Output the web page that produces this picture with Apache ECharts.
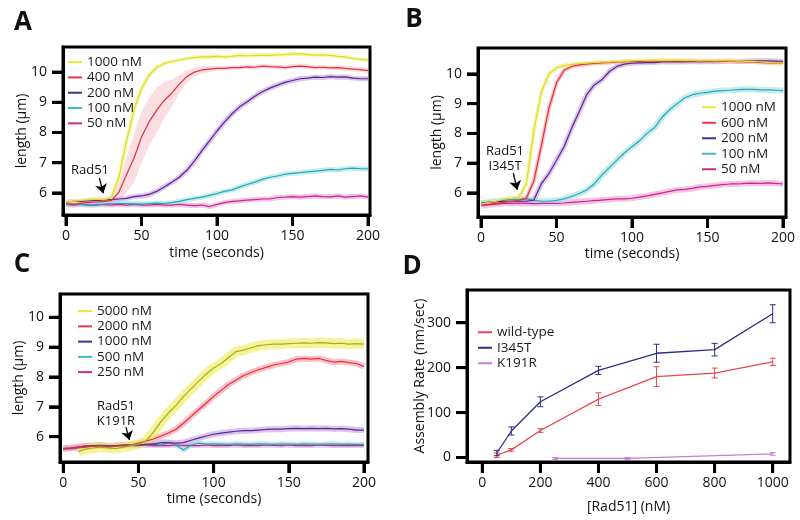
<!DOCTYPE html>
<html>
<head>
<meta charset="utf-8">
<script src="https://cdn.jsdelivr.net/npm/echarts@6/dist/echarts.min.js"></script>
<style>html,body{margin:0;background:#fff}#main{width:800px;height:520px}</style>
</head>
<body>
<div id="main"></div>
<script>
var FONT = '"Open Sans", "Noto Sans", sans-serif';

// time axis of the traces (seconds)
var times = [0,5,10,15,20,25,30,35,40,45,50,55,60,65,70,75,80,85,90,95,100,105,110,115,120,125,130,135,140,145,150,155,160,165,170,175,180,185,190,195,200];

// panel A - wild-type Rad51, length (um)
var a1000 = [5.72,5.72,5.75,5.78,5.8,5.78,5.85,6.5,7.7,8.75, 9.45,9.9,10.15,10.28,10.35,10.4,10.45,10.48,10.5,10.5, 10.52,10.5,10.52,10.55,10.54,10.55,10.56,10.55,10.57,10.58, 10.6,10.6,10.58,10.56,10.57,10.55,10.52,10.5,10.45,10.42, 10.4];
var a400 = [5.65,5.62,5.66,5.68,5.7,5.72,5.75,6.02,6.6,7.15, 7.85,8.35,8.73,9.06,9.3,9.6,9.85,10.0,10.07,10.1, 10.12,10.12,10.15,10.15,10.17,10.16,10.2,10.18,10.17,10.15, 10.18,10.2,10.18,10.15,10.16,10.14,10.15,10.12,10.1,10.08, 10.05];
var a400Err = [0.12,0.1,0.08,0.08,0.08,0.08,0.1,0.3,0.6,0.8, 0.85,0.8,0.75,0.6,0.45,0.3,0.2,0.15,0.12,0.1, 0.08,0.08,0.08,0.08,0.08,0.08,0.08,0.08,0.08,0.08, 0.08,0.08,0.08,0.08,0.08,0.08,0.08,0.08,0.08,0.08, 0.08];
var a200 = [5.7,5.72,5.72,5.74,5.75,5.76,5.78,5.8,5.82,5.88, 5.9,5.95,6.05,6.2,6.35,6.52,6.75,7.05,7.4,7.72, 8.05,8.35,8.62,8.85,9.02,9.2,9.35,9.47,9.57,9.66, 9.72,9.78,9.8,9.83,9.82,9.85,9.83,9.84,9.8,9.78, 9.78];
var a100 = [5.62,5.63,5.62,5.6,5.62,5.63,5.65,5.65,5.65,5.64, 5.63,5.65,5.66,5.65,5.68,5.72,5.78,5.82,5.86,5.92, 5.98,6.05,6.1,6.2,6.28,6.36,6.45,6.52,6.56,6.62, 6.65,6.67,6.7,6.72,6.75,6.78,6.76,6.8,6.82,6.8, 6.8];
var a50 = [5.62,5.6,5.62,5.6,5.6,5.62,5.6,5.62,5.6,5.62, 5.6,5.6,5.62,5.6,5.6,5.62,5.6,5.58,5.6,5.55, 5.62,5.68,5.72,5.74,5.76,5.78,5.8,5.8,5.85,5.86, 5.88,5.86,5.88,5.9,5.88,5.87,5.9,5.86,5.88,5.9, 5.86];

// panel B - Rad51 I345T
var b1000 = [5.62,5.68,5.72,5.8,5.82,5.85,6.3,8.1,9.4,10.0, 10.2,10.28,10.32,10.35,10.37,10.38,10.4,10.4,10.42,10.43, 10.44,10.45,10.45,10.46,10.45,10.46,10.45,10.46,10.45,10.44, 10.45,10.44,10.45,10.44,10.43,10.42,10.42,10.4,10.38,10.37, 10.36];
var b600 = [5.6,5.62,5.65,5.68,5.72,5.75,5.82,6.4,7.6,8.85, 9.7,10.12,10.25,10.3,10.33,10.35,10.37,10.38,10.4,10.4, 10.42,10.42,10.43,10.43,10.44,10.43,10.44,10.43,10.44,10.43, 10.43,10.42,10.43,10.42,10.41,10.4,10.4,10.38,10.37,10.36, 10.35];
var b200 = [5.65,5.68,5.7,5.72,5.72,5.72,5.72,5.76,6.31,6.65, 7.1,7.55,8.17,8.73,9.3,9.63,9.8,10.08,10.25,10.33, 10.36,10.37,10.38,10.38,10.4,10.4,10.41,10.4,10.42,10.4, 10.42,10.41,10.42,10.43,10.42,10.43,10.44,10.44,10.44,10.43, 10.42];
var b100 = [5.65,5.7,5.72,5.75,5.78,5.78,5.8,5.75,5.72,5.72, 5.75,5.8,5.88,5.98,6.1,6.3,6.6,6.85,7.1,7.35, 7.55,7.75,8.0,8.2,8.55,8.8,9.0,9.2,9.3,9.35, 9.38,9.42,9.44,9.45,9.47,9.48,9.48,9.46,9.46,9.45, 9.44];
var b50 = [5.58,5.6,5.62,5.65,5.65,5.66,5.65,5.64,5.65,5.65, 5.65,5.66,5.68,5.7,5.72,5.74,5.76,5.78,5.8,5.8, 5.82,5.86,5.9,5.95,6.0,6.05,6.1,6.12,6.15,6.2, 6.22,6.25,6.28,6.3,6.3,6.32,6.33,6.32,6.34,6.32, 6.3];

// panel C - Rad51 K191R
var c5000 = [null,null,5.5,5.58,5.62,5.65,5.62,5.6,5.65,5.7, 5.75,5.85,6.15,6.5,6.8,7.05,7.35,7.6,7.85,8.1, 8.3,8.45,8.65,8.85,8.9,8.98,9.05,9.08,9.1,9.1, 9.12,9.13,9.14,9.13,9.15,9.14,9.12,9.13,9.1,9.12, 9.1];
var c2000 = [5.6,5.62,5.65,5.7,5.68,5.7,5.65,5.68,5.7,5.72, 5.78,5.85,5.92,6.02,6.12,6.25,6.45,6.68,6.9,7.12, 7.35,7.55,7.75,7.9,8.05,8.15,8.25,8.32,8.4,8.45, 8.5,8.6,8.62,8.6,8.62,8.55,8.5,8.52,8.48,8.45, 8.35];
var c1000 = [5.6,5.62,5.65,5.68,5.7,5.7,5.68,5.7,5.72,5.72, 5.72,5.75,5.75,5.8,5.8,5.78,5.8,5.88,5.95,6.02, 6.08,6.12,6.15,6.18,6.2,6.2,6.22,6.24,6.25,6.25, 6.27,6.28,6.27,6.28,6.27,6.28,6.26,6.27,6.25,6.22, 6.22];
var c500 = [5.6,5.62,5.65,5.68,5.7,5.72,5.7,5.7,5.72,5.72, 5.72,5.74,5.75,5.72,5.8,5.72,5.55,5.72,5.78,5.75, 5.76,5.75,5.74,5.76,5.75,5.74,5.76,5.75,5.74,5.76, 5.75,5.74,5.76,5.75,5.74,5.75,5.76,5.74,5.75,5.74, 5.74];
var c250 = [5.58,5.6,5.62,5.65,5.68,5.7,5.68,5.7,5.7,5.7, 5.7,5.72,5.7,5.71,5.7,5.72,5.7,5.71,5.7,5.72, 5.7,5.71,5.7,5.72,5.7,5.71,5.7,5.72,5.71,5.7, 5.72,5.7,5.71,5.7,5.72,5.71,5.7,5.71,5.7,5.7, 5.7];

// panel D - assembly rate (nm/sec) vs [Rad51] (nM)
var concs = [50,100,200,400,600,800,1000];
var wtRate = [5,17,60,130,180,188,213];
var wtErr = [5,3,4,14,22,11,8];
var i345Rate = [10,59,124,194,232,240,320];
var i345Err = [6,9,11,9,20,14,20];
var k191Conc = [250,500,1000];
var k191Rate = [-2,-2,8];
var k191Err = [2,2,3];

var timeTicks = [0,50,100,150,200];
var lenTicks = [6,7,8,9,10];
var concTicks = [0,200,400,600,800,1000];
var rateTicks = [0,100,200,300];

var col = {
  yellow: {line:'#dcdc2c', halo:'#f3f38c', key:'#e6e63c'},
  olive: {line:'#a9a92a', halo:'#f0f06a', key:'#e6e63c'},
  red: {line:'#e0303c', halo:'#f6a6ae', key:'#e23a46'},
  purple: {line:'#55298c', halo:'#cdaae6', key:'#4e2c8c'},
  cyan: {line:'#2aa6b0', halo:'#a8e4ea', key:'#3cb8c4'},
  magenta: {line:'#c02a8a', halo:'#f2aadb', key:'#c42c8c'}
};

// axis extents: [xMin, xMax, yMin, yMax] per panel
var ext = [
  [-2, 201.3, 5.27, 10.83],
  [-2, 202, 5.19, 10.87],
  [-2.2, 202.7, 5.15, 10.78],
  [-52.7, 1059.6, -10, 372.8]
];

var chart = echarts.init(document.getElementById('main'));

function plain(v) { return String(v); }

function axisBase(i, min, max, ticks, name, gap, margin) {
  return {
    type:'value', gridIndex:i, min:min, max:max,
    axisLine:{show:true, onZero:false, lineStyle:{color:'#000', width:3}},
    splitLine:{show:false},
    axisTick:{show:true, inside:false, length:11, customValues:ticks, lineStyle:{color:'#000', width:3}},
    axisLabel:{customValues:ticks, formatter:plain, margin:margin, color:'#111', fontSize:14, fontFamily:FONT},
    name:name, nameLocation:'middle', nameGap:gap, nameMoveOverlap:false,
    nameTextStyle:{color:'#111', fontSize:14, fontFamily:FONT}
  };
}
function xAx(i, ticks, name, gap) {
  var a = axisBase(i, ext[i][0], ext[i][1], ticks, name, gap, 14);
  a.position = 'bottom';
  return a;
}
function yAx(i, ticks, name, gap) {
  var a = axisBase(i, ext[i][2], ext[i][3], ticks, name, gap, 16);
  a.position = 'left';
  return a;
}

// tick marks as small filled rects placed through the axes' scales, just outside the frame
function tickMarks(p, xt, yt) {
  var data = xt.map(function (v) { return [v, ext[p][2], 0]; })
    .concat(yt.map(function (v) { return [ext[p][0], v, 1]; }));
  return {
    type:'custom', xAxisIndex:p, yAxisIndex:p, silent:true, clip:false, z:10, data:data,
    encode:{x:0, y:1},
    renderItem: function (params, api) {
      var c = api.coord([api.value(0), api.value(1)]);
      var isY = api.value(2) === 1;
      var shape = isY ? {x:c[0] - 11, y:c[1] - 1.5, width:11, height:3}
                      : {x:c[0] - 1.5, y:c[1], width:3, height:11};
      return {type:'rect', shape:shape, style:{fill:'#000'}};
    }
  };
}

function pts(vals) {
  var out = [];
  times.forEach(function (t, i) { if (vals[i] != null) out.push([t, vals[i]]); });
  return out;
}

// one trace = light halo (error band) + thin line
function halo(p, name, vals, c, w) {
  return {type:'line', name:name + ' err', xAxisIndex:p, yAxisIndex:p, data:pts(vals), showSymbol:false, silent:true,
    lineStyle:{color:c.halo, width:w, opacity:0.7}, z:1};
}
function trace(p, name, vals, c) {
  return {type:'line', name:name, xAxisIndex:p, yAxisIndex:p, data:pts(vals), showSymbol:false,
    lineStyle:{color:c.line, width:1.2}, itemStyle:{color:c.line}, z:3};
}
function arrow(from, to) {
  return {silent:true, symbol:['none','arrow'], symbolSize:9, animation:false,
    lineStyle:{color:'#000', width:1.3, type:'solid'}, itemStyle:{color:'#000'}, label:{show:false},
    data:[[{coord:from}, {coord:to}]]};
}

function errBars(p, xs, ys, es, color) {
  return {
    type:'custom', xAxisIndex:p, yAxisIndex:p, silent:true, z:4,
    data: xs.map(function (x, i) { return [x, ys[i] - es[i], ys[i] + es[i]]; }),
    encode:{x:0, y:[1,2]},
    renderItem: function (params, api) {
      var lo = api.coord([api.value(0), api.value(1)]);
      var hi = api.coord([api.value(0), api.value(2)]);
      var s = {stroke:color, lineWidth:1};
      return {type:'group', children:[
        {type:'line', shape:{x1:lo[0], y1:lo[1], x2:hi[0], y2:hi[1]}, style:s},
        {type:'line', shape:{x1:lo[0]-3, y1:lo[1], x2:lo[0]+3, y2:lo[1]}, style:s},
        {type:'line', shape:{x1:hi[0]-3, y1:hi[1], x2:hi[0]+3, y2:hi[1]}, style:s}
      ]};
    }
  };
}

var series = [];

// A: wide error band of the 400 nM trace
series.push({
  type:'custom', xAxisIndex:0, yAxisIndex:0, silent:true, z:1, data:[[0, 6]],
  renderItem: function (params, api) {
    var up = [], lo = [];
    times.forEach(function (t, i) {
      up.push(api.coord([t, a400[i] + a400Err[i]]));
      lo.unshift(api.coord([t, a400[i] - a400Err[i]]));
    });
    return {type:'polygon', shape:{points:up.concat(lo)}, style:{fill:'rgba(244,160,170,0.35)'}};
  }
});
series.push(halo(0,'50 nM',a50,col.magenta,5), halo(0,'100 nM',a100,col.cyan,5), halo(0,'200 nM',a200,col.purple,5), halo(0,'1000 nM',a1000,col.yellow,4));
var aLast = trace(0,'50 nM',a50,col.magenta);
aLast.markLine = arrow([22.1, 6.49], [24.7, 5.99]);
series.push(aLast, trace(0,'100 nM',a100,col.cyan), trace(0,'200 nM',a200,col.purple), trace(0,'400 nM',a400,col.red), trace(0,'1000 nM',a1000,col.yellow));

// B
series.push(halo(1,'50 nM',b50,col.magenta,6), halo(1,'100 nM',b100,col.cyan,6), halo(1,'200 nM',b200,col.purple,5), halo(1,'600 nM',b600,col.red,4), halo(1,'1000 nM',b1000,col.yellow,4));
var bLast = trace(1,'50 nM',b50,col.magenta);
bLast.markLine = arrow([21.4, 6.66], [24.0, 6.1]);
series.push(bLast, trace(1,'100 nM',b100,col.cyan), trace(1,'200 nM',b200,col.purple), trace(1,'600 nM',b600,col.red), trace(1,'1000 nM',b1000,col.yellow));

// C
series.push(halo(2,'250 nM',c250,col.magenta,5), halo(2,'500 nM',c500,col.cyan,5), halo(2,'1000 nM',c1000,col.purple,6), halo(2,'2000 nM',c2000,col.red,6), halo(2,'5000 nM',c5000,col.olive,10));
var cLast = trace(2,'250 nM',c250,col.magenta);
cLast.markLine = arrow([41.7, 6.32], [44.0, 5.89]);
series.push(cLast, trace(2,'500 nM',c500,col.cyan), trace(2,'1000 nM',c1000,col.purple), trace(2,'2000 nM',c2000,col.red), trace(2,'5000 nM',c5000,col.olive));

// D
var dCol = {wt:'#e8474f', i345:'#2d2d85', k191:'#c27fd6'};
function rateLine(name, xs, ys, c) {
  return {type:'line', name:name, xAxisIndex:3, yAxisIndex:3, showSymbol:false, z:3,
    data: xs.map(function (x, i) { return [x, ys[i]]; }),
    lineStyle:{color:c, width:1.3}, itemStyle:{color:c}};
}
series.push(rateLine('K191R', k191Conc, k191Rate, dCol.k191), rateLine('wild-type', concs, wtRate, dCol.wt), rateLine('I345T', concs, i345Rate, dCol.i345));
series.push(errBars(3, k191Conc, k191Rate, k191Err, dCol.k191), errBars(3, concs, wtRate, wtErr, dCol.wt), errBars(3, concs, i345Rate, i345Err, dCol.i345));

series.push(tickMarks(0, timeTicks, lenTicks), tickMarks(1, timeTicks, lenTicks), tickMarks(2, timeTicks, lenTicks), tickMarks(3, concTicks, rateTicks));

function leg(left, top, lh, items) {
  return {
    orient:'vertical', left:left, top:top, padding:0, itemGap:0, itemWidth:14, itemHeight:2, icon:'rect',
    selectedMode:false,
    textStyle:{fontSize:13.5, lineHeight:lh, color:'#1a1a1a', fontFamily:FONT},
    data: items.map(function (it) { return {name:it[0], itemStyle:{color:it[1]}}; })
  };
}

var txt = function (x, y, s, font) {
  return {type:'text', silent:true, style:{x:x, y:y, text:s, font:font || ('13px ' + FONT), fill:'#111', align:'center', verticalAlign:'middle'}};
};
var big = 'bold 26px ' + FONT;

chart.setOption({
  animation:false,
  backgroundColor:'#fff',
  textStyle:{fontFamily:FONT},
  grid:[
    {left:63, top:47, width:307, height:168},
    {left:478, top:48, width:308, height:169},
    {left:60, top:294, width:308, height:168},
    {left:467, top:290, width:323, height:172}
  ].map(function (g) {
    return Object.assign({show:true, borderColor:'#000', borderWidth:3, backgroundColor:'transparent'}, g);
  }),
  xAxis:[
    xAx(0, timeTicks, 'time (seconds)', 31),
    xAx(1, timeTicks, 'time (seconds)', 30),
    xAx(2, timeTicks, 'time (seconds)', 30),
    xAx(3, concTicks, '[Rad51] (nM)', 38)
  ],
  yAxis:[
    yAx(0, lenTicks, 'length (µm)', 34),
    yAx(1, lenTicks, 'length (µm)', 34),
    yAx(2, lenTicks, 'length (µm)', 34),
    yAx(3, rateTicks, 'Assembly Rate (nm/sec)', 40)
  ],
  legend:[
    leg(68, 54.5, 15.3, [['1000 nM',col.yellow.key],['400 nM',col.red.key],['200 nM',col.purple.key],['100 nM',col.cyan.key],['50 nM',col.magenta.key]]),
    leg(702, 99.5, 15.5, [['1000 nM',col.yellow.key],['600 nM',col.red.key],['200 nM',col.purple.key],['100 nM',col.cyan.key],['50 nM',col.magenta.key]]),
    leg(78, 303.5, 15.25, [['5000 nM',col.yellow.key],['2000 nM',col.red.key],['1000 nM',col.purple.key],['500 nM',col.cyan.key],['250 nM',col.magenta.key]]),
    leg(478, 324.5, 15.5, [['wild-type',dCol.wt],['I345T',dCol.i345],['K191R',dCol.k191]])
  ],
  graphic:[
    txt(23, 23, 'A', big), txt(414, 20, 'B', big), txt(22, 265, 'C', big), txt(412, 267, 'D', big),
    txt(90, 170, 'Rad51'),
    txt(505, 151, 'Rad51'), txt(505, 166, 'I345T'),
    txt(116, 406, 'Rad51'), txt(116, 421, 'K191R')
  ],
  series:series
});
</script>
</body>
</html>
